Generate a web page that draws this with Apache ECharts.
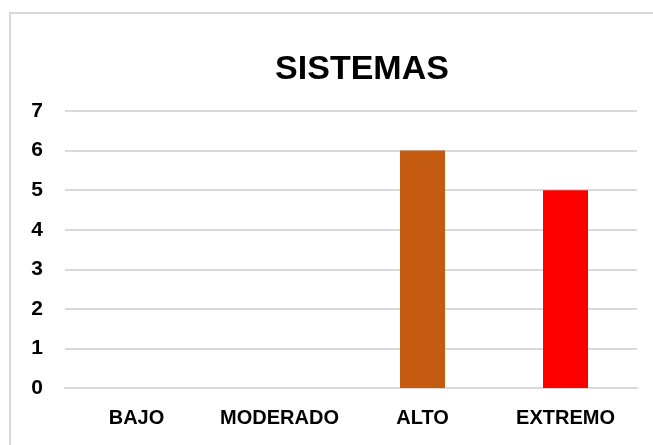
<!DOCTYPE html>
<html>
<head>
<meta charset="utf-8">
<script src="https://cdn.jsdelivr.net/npm/echarts@6/dist/echarts.min.js"></script>
<style>
  html, body { margin: 0; padding: 0; background: #fff; overflow: hidden; }
  #chart { width: 653px; height: 445px; }
</style>
</head>
<body>
<div id="chart"></div>
<script>
var categories = ["BAJO", "MODERADO", "ALTO", "EXTREMO"];
var values = [0, 0, 6, 5];
var barColors = ["#4472c4", "#ed7d31", "#c55a11", "#ff0000"];

var chart = echarts.init(document.getElementById("chart"));
var option = {
  animation: false,
  backgroundColor: "#fff",
  graphic: [{
    type: "polyline",
    shape: { points: [[10, 460], [10, 13], [660, 13]] },
    style: { fill: "none", stroke: "#d9d9d9", lineWidth: 2 },
    silent: true
  }],
  title: {
    text: "SISTEMAS",
    left: 357,
    top: 48,
    textAlign: "center",
    textStyle: { fontFamily: "Liberation Sans", fontWeight: "bold", fontSize: 34, color: "#000" }
  },
  grid: { left: 65, right: 16, top: 111, bottom: 57 },
  xAxis: {
    type: "category",
    data: categories,
    axisLine: { lineStyle: { color: "#d9d9d9", width: 2 } },
    axisTick: { show: false },
    axisLabel: {
      interval: 0,
      hideOverlap: false,
      margin: 20,
      fontFamily: "Liberation Sans", fontWeight: "bold", fontSize: 20, color: "#000"
    }
  },
  yAxis: {
    type: "value",
    min: 0, max: 7, interval: 1,
    axisLine: { show: false },
    axisTick: { show: false },
    splitLine: { lineStyle: { color: "#d9d9d9", width: 2 } },
    axisLabel: {
      margin: 22,
      fontFamily: "Liberation Sans", fontWeight: "bold", fontSize: 21, color: "#000"
    }
  },
  series: [{
    type: "bar",
    data: values.map(function (v, i) {
      return { value: v, itemStyle: { color: barColors[i] } };
    }),
    barWidth: 45
  }]
};
chart.setOption(option);
</script>
</body>
</html>
